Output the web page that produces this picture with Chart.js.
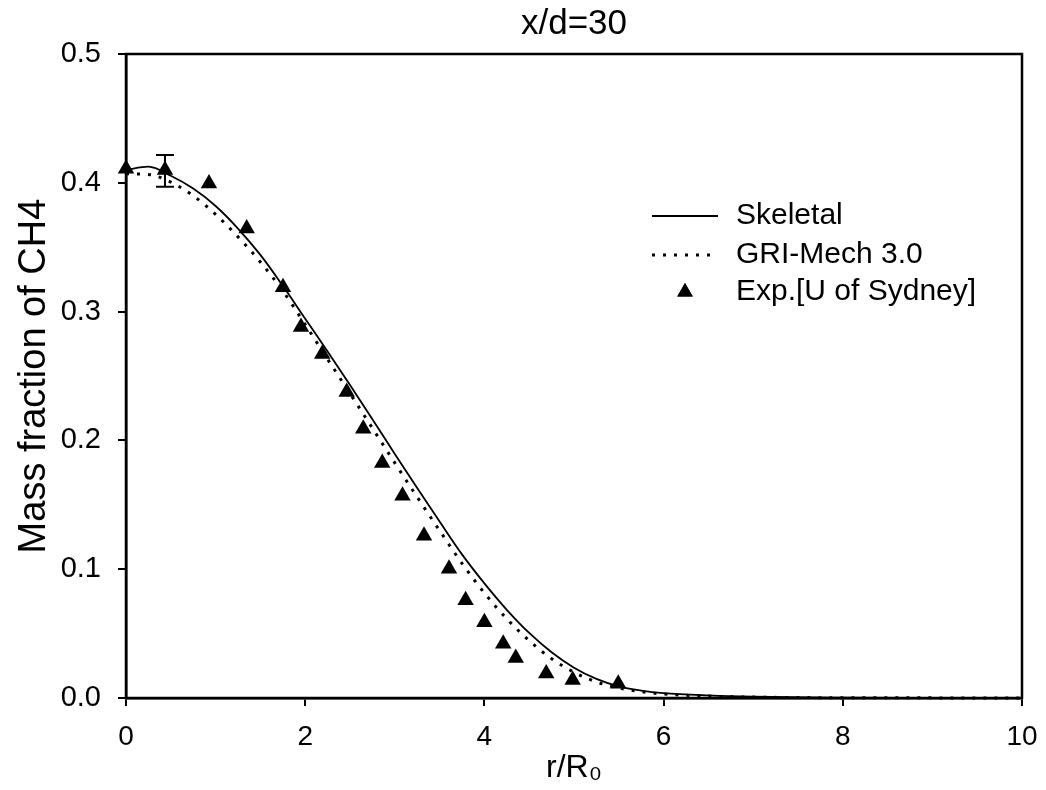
<!DOCTYPE html>
<html><head><meta charset="utf-8">
<script src="https://cdn.jsdelivr.net/npm/chart.js@4.4.1/dist/chart.umd.min.js"></script>
<style>html,body{margin:0;padding:0;background:#fff}#wrap{width:1046px;height:790px}</style>
</head><body><div id="wrap"><canvas id="c" width="1046" height="790"></canvas></div>
<script>
const titleText = 'x/d=30';
const xAxisTitle = 'r/R₀';
const yAxisTitle = 'Mass fraction of CH4';
const seriesNames = ['Skeletal', 'GRI-Mech 3.0', 'Exp.[U of Sydney]'];
const xTickValues = [0, 2, 4, 6, 8, 10];
const yTickValues = [0.0, 0.1, 0.2, 0.3, 0.4, 0.5];

const modelR = [0,0.25,0.5,0.75,1,1.25,1.5,1.75,2,2.25,2.5,2.75,3,3.25,3.5,3.75,4,4.25,4.5,4.75,5,5.25,5.5,5.75,6,6.5,7,8,9,10];
const skeletal = [0.410,0.4125,0.4055,0.3955,0.382,0.3645,0.344,0.320,0.2945,0.269,0.243,0.2165,0.1895,0.163,0.137,0.1115,0.089,0.0685,0.0505,0.0355,0.0235,0.0148,0.009,0.0058,0.0038,0.002,0.001,0.0003,0.0001,0];
const griMech = [0.407,0.4065,0.4005,0.390,0.3755,0.358,0.3385,0.316,0.290,0.263,0.2365,0.2095,0.1825,0.156,0.130,0.1045,0.0815,0.0615,0.0445,0.0305,0.020,0.0125,0.0078,0.0049,0.0031,0.0015,0.0007,0.0002,0.0001,0];

const expR = [0.0,0.435,0.926,1.347,1.752,1.953,2.19,2.463,2.648,2.86,3.086,3.326,3.605,3.79,4.0,4.21,4.35,4.69,4.985,5.494];
const expY = [0.411,0.410,0.3995,0.3646,0.319,0.288,0.267,0.2376,0.209,0.1824,0.157,0.126,0.1004,0.0758,0.0589,0.0421,0.031,0.019,0.014,0.011];

const errR = [0.435];
const errLow = [0.397];
const errHigh = [0.4215];

const FONT = '"Liberation Sans", Arial, sans-serif';
Chart.defaults.font.family = FONT;
Chart.defaults.color = '#000';

function pts(xs, ys) { return xs.map((x, i) => ({ x: x, y: ys[i] })); }

const framePlugin = {
  id: 'frame',
  afterDraw(chart) {
    const { ctx, chartArea: a, scales } = chart;
    ctx.save();
    ctx.strokeStyle = '#000';
    ctx.lineWidth = 2.5;
    ctx.strokeRect(a.left, a.top, a.right - a.left, a.bottom - a.top);
    ctx.fillStyle = '#000';
    ctx.font = '35px ' + FONT;
    ctx.textAlign = 'center';
    ctx.textBaseline = 'middle';
    ctx.fillText(titleText, (a.left + a.right) / 2, 24);
    ctx.lineWidth = 2;
    for (let i = 0; i < errR.length; i++) {
      const x = scales.x.getPixelForValue(errR[i]);
      const y1 = scales.y.getPixelForValue(errLow[i]);
      const y2 = scales.y.getPixelForValue(errHigh[i]);
      ctx.beginPath();
      ctx.moveTo(x, y1); ctx.lineTo(x, y2);
      ctx.moveTo(x - 9, y1); ctx.lineTo(x + 9, y1);
      ctx.moveTo(x - 9, y2); ctx.lineTo(x + 9, y2);
      ctx.stroke();
    }
    const lx0 = 652, lx1 = 718, tx = 736;
    const rows = [216, 255, 292];
    ctx.font = '30px ' + FONT;
    ctx.textBaseline = 'middle';
    ctx.textAlign = 'left';
    chart.data.datasets.forEach((ds, i) => {
      const y = rows[i];
      if (ds.showLine) {
        ctx.save();
        ctx.strokeStyle = ds.borderColor;
        ctx.lineWidth = ds.borderWidth;
        ctx.setLineDash(ds.borderDash || []);
        ctx.beginPath(); ctx.moveTo(lx0, y); ctx.lineTo(lx1, y); ctx.stroke();
        ctx.restore();
      } else {
        Chart.helpers.drawPoint(ctx, { pointStyle: 'triangle', radius: 9, borderWidth: 0, rotation: 0 }, (lx0 + lx1) / 2, y);
        ctx.fillStyle = '#000';
        ctx.fill();
      }
      ctx.fillStyle = '#000';
      ctx.fillText(ds.label, tx, y);
    });
    ctx.restore();
  }
};

new Chart(document.getElementById('c'), {
  type: 'scatter',
  data: {
    datasets: [
      { label: seriesNames[0], data: pts(modelR, skeletal), showLine: true, borderColor: '#000', borderWidth: 1.8, pointRadius: 0, cubicInterpolationMode: 'monotone', clip: false },
      { label: seriesNames[1], data: pts(modelR, griMech), showLine: true, borderColor: '#000', borderWidth: 3, borderDash: [3, 8], pointRadius: 0, cubicInterpolationMode: 'monotone', clip: false },
      { label: seriesNames[2], data: pts(expR, expY), showLine: false, pointStyle: 'triangle', pointRadius: 9.5, backgroundColor: '#000', borderColor: '#000', borderWidth: 0, clip: false }
    ]
  },
  options: {
    responsive: false,
    animation: false,
    devicePixelRatio: 1,
    layout: { padding: { left: 0, right: 24, top: 54, bottom: 0 } },
    plugins: {
      legend: { display: false },
      tooltip: { enabled: false },
      title: { display: false }
    },
    scales: {
      x: {
        type: 'linear', min: 0, max: 10,
        afterBuildTicks(s) { s.ticks = xTickValues.map(v => ({ value: v })); },
        afterFit(s) { s.height = 92; s.paddingRight = 0; s.paddingLeft = 0; },
        ticks: { font: { size: 28 }, color: '#000', padding: 14, maxRotation: 0 },
        grid: { display: true, drawOnChartArea: false, drawTicks: true, tickLength: 8, color: '#000', lineWidth: 2 },
        border: { display: true, color: '#000', width: 2.5 },
        title: { display: true, text: xAxisTitle, font: { size: 32 }, color: '#000', padding: { top: 0, bottom: 3 } }
      },
      y: {
        type: 'linear', min: 0, max: 0.5,
        afterBuildTicks(s) { s.ticks = yTickValues.map(v => ({ value: v })); },
        afterFit(s) { s.width = 126; },
        ticks: { font: { size: 29 }, color: '#000', padding: 17, callback: v => v.toFixed(1) },
        grid: { display: true, drawOnChartArea: false, drawTicks: true, tickLength: 8, color: '#000', lineWidth: 2 },
        border: { display: true, color: '#000', width: 2.5 },
        title: { display: true, text: yAxisTitle, font: { size: 38 }, color: '#000', padding: { top: 12, bottom: 0 } }
      }
    }
  },
  plugins: [framePlugin]
});
</script>
</body></html>
